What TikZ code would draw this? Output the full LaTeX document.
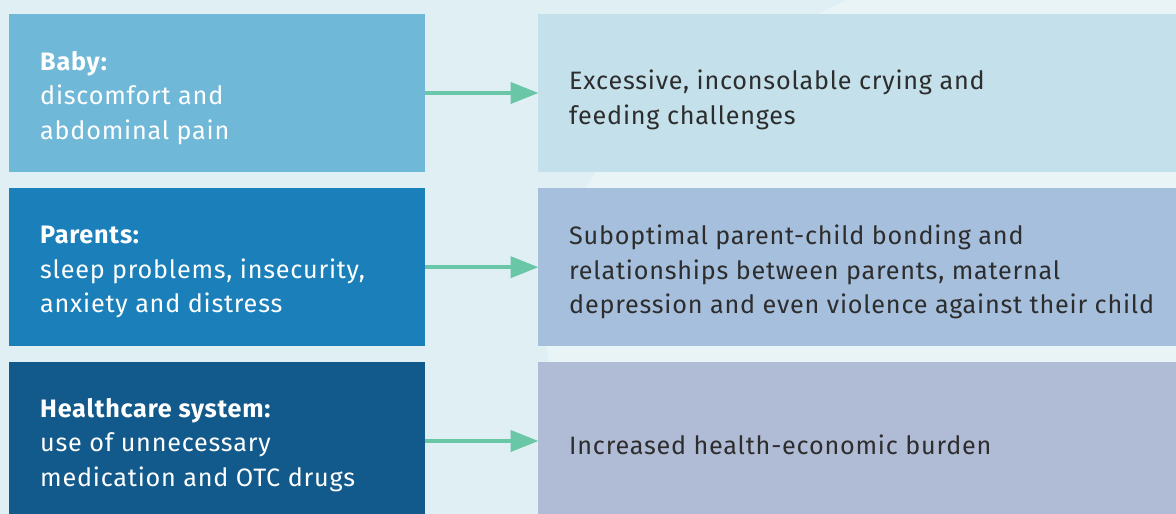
\documentclass[tikz,border=0pt]{standalone}
\usepackage{fontspec}
\setmainfont{Fira Sans}[LetterSpace=3.1]
\usetikzlibrary{arrows.meta}
\definecolor{bgA}{HTML}{DFEFF4}
\definecolor{bgB}{HTML}{E9F4F7}
\definecolor{lA}{HTML}{70B8D7}
\definecolor{lB}{HTML}{1B80BA}
\definecolor{lC}{HTML}{135A8C}
\definecolor{rA}{HTML}{C3E0EB}
\definecolor{rB}{HTML}{A5BFDD}
\definecolor{rC}{HTML}{B0BBD5}
\definecolor{arr}{HTML}{69C6A6}
\definecolor{txt}{HTML}{2D2D2D}
\tikzset{
  leftbox/.style={anchor=north west, minimum width=416pt, minimum height=158pt, inner sep=0pt},
  rightbox/.style={anchor=north west, minimum width=638pt, minimum height=158pt, inner sep=0pt},
  lefttext/.style={anchor=west, align=left, inner sep=0pt, text=white, font=\fontsize{25.2}{34.5}\selectfont},
  righttext/.style={anchor=west, align=left, inner sep=0pt, text=txt, font=\fontsize{25.2}{34.5}\selectfont},
  conn/.style={draw=arr, line width=4pt, -{Triangle[length=28pt,width=21pt]}, shorten >=-0.5pt}
}
\begin{document}
\begin{tikzpicture}[x=1pt,y=-1pt]
\useasboundingbox (0,0) rectangle (1176,514);
\clip (0,0) rectangle (1176,514);
\fill[bgA] (0,0) rectangle (1176,514);
\fill[bgB] (847,0) .. controls (700,70) and (560,150) .. (545,300) .. controls (543,380) and (570,450) .. (600,514) -- (1176,514) -- (1176,0) -- cycle;
% left boxes
\node[leftbox, fill=lA] (L1) at (9,14) {};
\node[leftbox, fill=lB] (L2) at (9,188) {};
\node[leftbox, fill=lC] (L3) at (9,362) {};
% right boxes
\node[rightbox, fill=rA] (R1) at (538,14) {};
\node[rightbox, fill=rB] (R2) at (538,188) {};
\node[rightbox, fill=rC] (R3) at (538,362) {};
% texts
\node[lefttext] (T1) at (40,98) {\textbf{Baby:}\\discomfort and\\abdominal pain};
\node[lefttext] (T2) at (40,272) {\textbf{Parents:}\\sleep problems, insecurity,\\anxiety and distress};
\node[lefttext] (T3) at (40,445) {\textbf{Healthcare system:}\\use of unnecessary\\medication and OTC drugs};
\node[righttext] (S1) at (569,100) {Excessive, inconsolable crying and\\feeding challenges};
\node[righttext] (S2) at (569,272) {Suboptimal parent-child bonding and\\relationships between parents, maternal\\depression and even violence against their child};
\node[righttext] (S3) at (569,445) {Increased health-economic burden};
% arrows
\draw[conn] (L1.east |- 0,93) -- (R1.west |- 0,93);
\draw[conn] (L2.east) -- (R2.west);
\draw[conn] (L3.east |- 0,441) -- (R3.west |- 0,441);
\end{tikzpicture}
\end{document}
